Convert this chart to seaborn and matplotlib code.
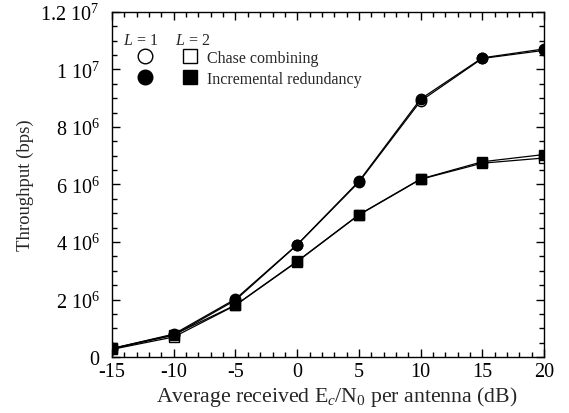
import numpy as np
import pandas as pd
import seaborn as sns
import matplotlib.pyplot as plt
from matplotlib.lines import Line2D
from matplotlib.legend_handler import HandlerTuple
from matplotlib.ticker import FuncFormatter, MultipleLocator

snr_db = [-15, -10, -5, 0, 5, 10, 15, 20]
cc_l1 = [0.29e6, 0.76e6, 1.98e6, 3.90e6, 6.08e6, 8.90e6, 10.38e6, 10.66e6]
ir_l1 = [0.30e6, 0.80e6, 2.02e6, 3.91e6, 6.11e6, 8.97e6, 10.40e6, 10.71e6]
cc_l2 = [0.27e6, 0.70e6, 1.80e6, 3.32e6, 4.94e6, 6.18e6, 6.74e6, 6.92e6]
ir_l2 = [0.30e6, 0.78e6, 1.81e6, 3.33e6, 4.95e6, 6.19e6, 6.79e6, 7.04e6]

sns.set_style("ticks")
plt.rcParams["font.family"] = ["Liberation Serif", "DejaVu Serif"]
plt.rcParams["mathtext.fontset"] = "custom"
plt.rcParams["mathtext.rm"] = "Liberation Serif"
plt.rcParams["mathtext.it"] = "Liberation Serif:italic"
plt.rcParams["axes.unicode_minus"] = False

fig = plt.figure(figsize=(5.69, 4.14), dpi=100)
ax = fig.add_axes([0.197, 0.135, 0.759, 0.834])

series = [
    (cc_l1, "o", "white"),
    (cc_l2, "s", "white"),
    (ir_l1, "o", "black"),
    (ir_l2, "s", "black"),
]
for vals, mk, fc in series:
    sns.lineplot(x=snr_db, y=vals, ax=ax, color="black", linewidth=0.9,
                 marker=mk, markersize=7.5, markerfacecolor=fc,
                 markeredgecolor="black", markeredgewidth=1.0)

ax.set_xlim(-15, 20)
ax.set_ylim(0, 1.2e7)
ax.xaxis.set_major_locator(MultipleLocator(5))
ax.xaxis.set_minor_locator(MultipleLocator(1))
ax.yaxis.set_major_locator(MultipleLocator(2e6))
ax.yaxis.set_minor_locator(MultipleLocator(0.5e6))


def sci(v, pos):
    if v <= 0:
        return "0"
    e = int(np.floor(np.log10(v) + 1e-9))
    m = round(v / 10 ** e, 6)
    return f"{m:g} 10$^{{{e}}}$"


ax.yaxis.set_major_formatter(FuncFormatter(sci))
ax.tick_params(which="both", direction="in", top=True, right=True,
               labelsize=14.5, colors="black")
ax.tick_params(which="major", length=6, width=1)
ax.tick_params(which="minor", length=3.5, width=1)
ax.tick_params(axis="y", which="major", pad=9)
for s in ax.spines.values():
    s.set_linewidth(1)
    s.set_color("black")

ax.set_xlabel("Average received E$_c$/N$_0$ per antenna (dB)", fontsize=15.7)
ax.xaxis.set_label_coords(0.521, -0.078)
ax.set_ylabel("Throughput (bps)", fontsize=13.5, labelpad=5)

# legend: column headers, then tuple handles for L = 1 / L = 2
ax.text(0.025, 0.918, "$L$ = 1", transform=ax.transAxes, fontsize=11.5, va="center")
ax.text(0.146, 0.918, "$L$ = 2", transform=ax.transAxes, fontsize=11.5, va="center")

mk = dict(color="black", linestyle="none", markersize=10.5, markeredgewidth=1.0)
oc = Line2D([], [], marker="o", markerfacecolor="white", **mk)
fcirc = Line2D([], [], marker="o", markerfacecolor="black", **mk)
osq = Line2D([], [], marker="s", markerfacecolor="white", **mk)
fsq = Line2D([], [], marker="s", markerfacecolor="black", **mk)
leg = ax.legend([(oc, osq), (fcirc, fsq)], ["Chase combining", "Incremental redundancy"],
                handler_map={tuple: HandlerTuple(ndivide=None, pad=2.4)},
                fontsize=11.5, frameon=False, loc="upper left",
                bbox_to_anchor=(0.069, 0.89), borderaxespad=0, borderpad=0,
                handlelength=3.2, handletextpad=0.86, labelspacing=0.3)

fig.savefig("out.png", dpi=100)
